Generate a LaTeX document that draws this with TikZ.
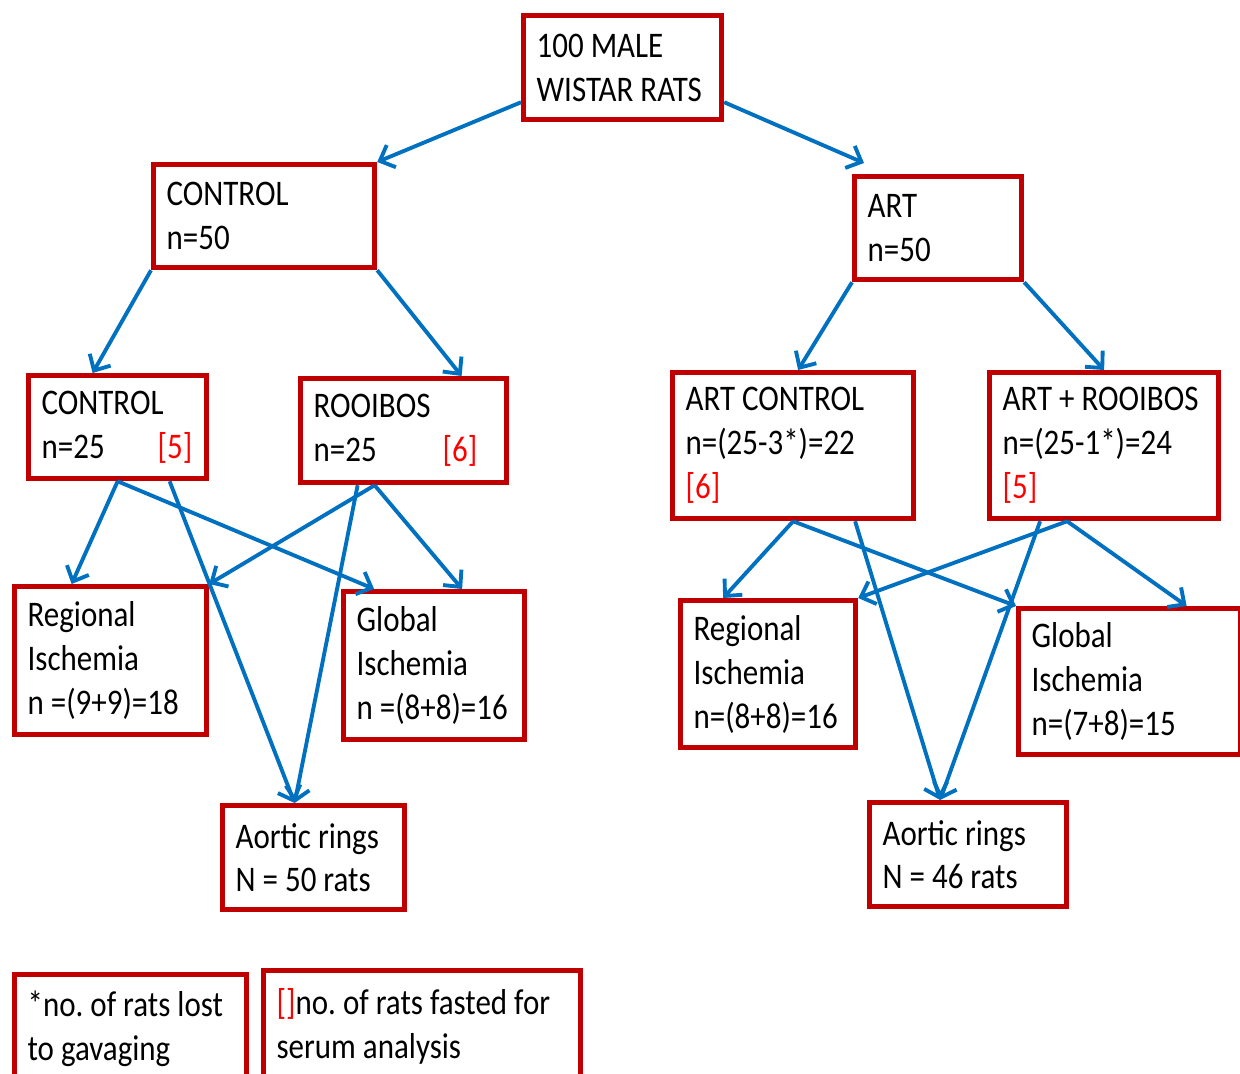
\documentclass[tikz,border=0pt]{standalone}
\usepackage{fontspec}
\setmainfont{Carlito}[FakeStretch=0.86]
\usetikzlibrary{arrows.meta, calc}
\definecolor{boxred}{HTML}{C00000}
\definecolor{linkblue}{HTML}{0070C0}
\definecolor{notered}{HTML}{FF0000}

\tikzset{
  ratbox/.style={draw=boxred, line width=3pt, fill=white, inner xsep=0.26cm,
    inner ysep=0pt, align=flush left, anchor=north west,
    font=\fontsize{20.5}{25}\selectfont},
  link/.style={linkblue, line width=2.2pt,
    -{Straight Barb[length=2.5mm, width=4.8mm]}}
}

\begin{document}
\begin{tikzpicture}[x=0.02cm, y=-0.02cm]

\useasboundingbox (0,0) rectangle (1240,1073);
\clip (0,0) rectangle (1240,1073);

% Top level
\node[ratbox, text width=3.44cm, minimum height=2.08cm] (rats) at (521,13)
  {100 MALE\\WISTAR~RATS};

% Groups
\node[ratbox, text width=3.90cm, minimum height=2.06cm] (ctl) at (151,162)
  {CONTROL\\n=50};
\node[ratbox, text width=2.82cm, minimum height=2.06cm] (art) at (852,174)
  {ART\\n=50};

% Sub-groups
\node[ratbox, text width=3.04cm, minimum height=2.06cm] (ctlA) at (26,373)
  {CONTROL\\n=25\nobreak\hspace{1.06cm}{\color{notered}[5]}};
\node[ratbox, text width=3.60cm, minimum height=2.08cm] (roo) at (298,376)
  {ROOIBOS\\n=25\nobreak\hspace{1.32cm}{\color{notered}[6]}};
\node[ratbox, text width=4.30cm, minimum height=2.92cm] (artctl) at (670,370)
  {ART~CONTROL\\n=(25-3*)=22\\{\color{notered}[6]}};
\node[ratbox, text width=4.06cm, minimum height=2.92cm] (artroo) at (987,370)
  {ART~+~\mbox{ROOIBOS}\\n=(25-1*)=24\\{\color{notered}[5]}};

% Ischemia groups
\node[ratbox, text width=3.32cm, minimum height=2.96cm] (regL) at (12,584)
  {Regional\\Ischemia\\n~=(9+9)=18};
\node[ratbox, text width=3.10cm, minimum height=2.96cm] (globL) at (341,589)
  {Global\\Ischemia\\n~=(8+8)=16};
\node[ratbox, text width=2.98cm, minimum height=2.94cm] (regR) at (678,598)
  {Regional\\Ischemia\\n=(8+8)=16};
\node[ratbox, text width=3.92cm, minimum height=2.92cm] (globR) at (1016,606)
  {Global\\Ischemia\\n=(7+8)=15};

% Aortic rings
\node[ratbox, text width=3.12cm, minimum height=2.08cm] (aorL) at (220,803)
  {Aortic~rings\\N~=~50~rats};
\node[ratbox, text width=3.42cm, minimum height=2.08cm] (aorR) at (867,800)
  {Aortic~rings\\N~=~46~rats};

% Key
\node[ratbox, text width=4.12cm, minimum height=2.16cm] (keyA) at (12,972)
  {*no.~of~rats~lost\\to gavaging};
\node[ratbox, text width=5.82cm, minimum height=2.24cm] (keyB) at (261,968)
  {{\color{notered}[]}no.~of~rats~fasted~for\\serum analysis};

% Links
\draw[link] ([yshift=0.4cm]rats.south west) -- (ctl.north east);
\draw[link] ([yshift=0.4cm]rats.south east) -- ([shift={(0.24cm,0.22cm)}]art.north west);

\draw[link] (ctl.south west) -- ([xshift=-0.5cm]ctlA.north);
\draw[link] (ctl.south east) -- ([xshift=1.16cm]roo.north);
\draw[link] (art.south west) -- ([xshift=0.1cm]artctl.north);
\draw[link] (art.south east) -- (artroo.north);

\draw[link] (ctlA.south) -- ([xshift=-0.78cm]regL.north);
\draw[link] (ctlA.south) -- ([xshift=-1.2cm]globL.north);
\draw[link] ([xshift=1.04cm]ctlA.south) -- ([xshift=-0.38cm]aorL.north);
\draw[link] ([xshift=-0.58cm]roo.south) -- (regL.north east);
\draw[link] ([xshift=-0.58cm]roo.south) -- ([xshift=0.56cm]globL.north);
\draw[link] ([xshift=-0.92cm]roo.south) -- ([xshift=-0.38cm]aorL.north);

\draw[link] (artctl.south) -- ([xshift=-0.9cm]regR.north);
\draw[link] (artctl.south) -- (globR.north west);
\draw[link] ([xshift=1.24cm]artctl.south) -- ([xshift=-0.56cm]aorR.north);
\draw[link] ([xshift=-0.74cm]artroo.south) -- (regR.north east);
\draw[link] ([xshift=-0.74cm]artroo.south) -- ([xshift=1.14cm]globR.north);
\draw[link] ([xshift=-1.28cm]artroo.south) -- ([xshift=-0.56cm]aorR.north);

\end{tikzpicture}
\end{document}
